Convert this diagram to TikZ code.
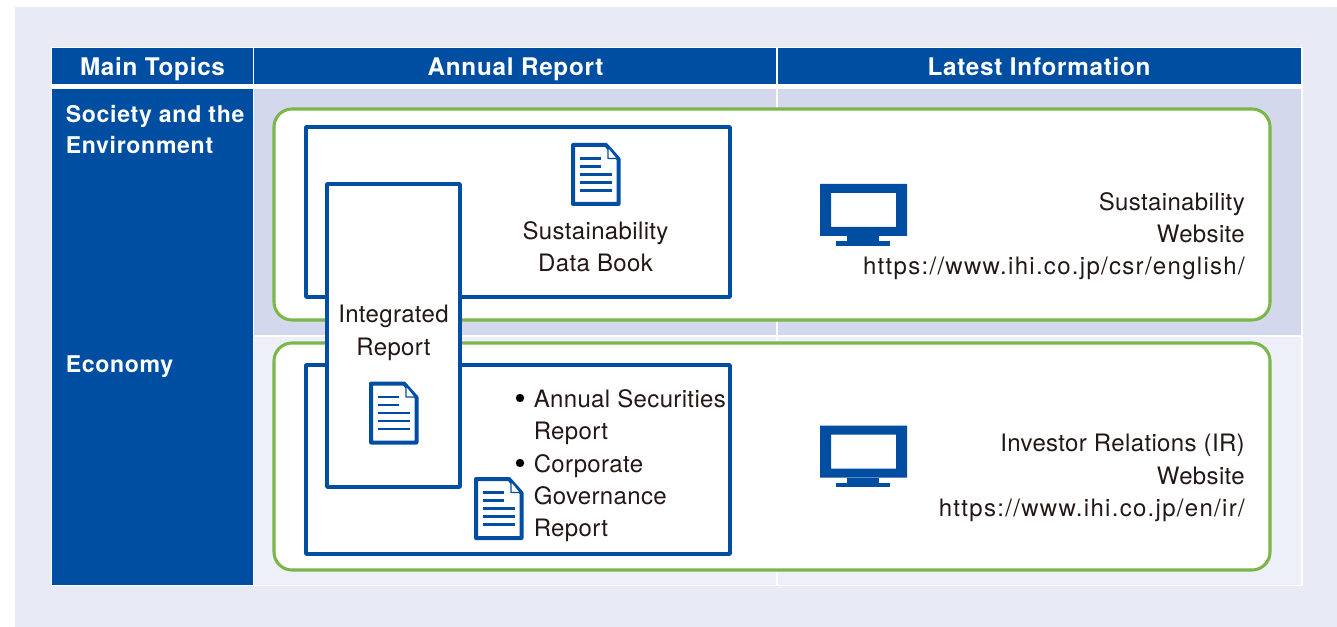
\documentclass[tikz,border=0pt]{standalone}
\usepackage{fontspec}
\setmainfont{TeX Gyre Heros}
\definecolor{pagebg}{HTML}{E8EAF6}
\definecolor{ihiblue}{HTML}{004EA2}
\definecolor{rowa}{HTML}{D3D8EC}
\definecolor{rowb}{HTML}{EEF0F9}
\definecolor{leaf}{HTML}{7AB648}
\definecolor{ink}{HTML}{231815}
\newfontface\headfont[LetterSpace=3]{TeX Gyre Heros Bold}
\newfontface\bodyfont[LetterSpace=1.5]{TeX Gyre Heros}
\newfontface\urlfont[LetterSpace=5.4]{TeX Gyre Heros}
\tikzset{
  x=0.75pt,y=-0.75pt,
  headcell/.style={font=\headfont\fontsize{18.2}{23.5}\selectfont,text=white,inner sep=0pt,anchor=base},
  rowcell/.style={font=\headfont\fontsize{17.3}{23.3}\selectfont,text=white,inner sep=0pt},
  bodytext/.style={font=\bodyfont\fontsize{18}{24.2}\selectfont,text=ink,inner sep=0pt},
  greenbox/.style={draw=leaf,line width=2.3pt,fill=white,rounded corners=13.5pt},
  bluebox/.style={draw=ihiblue,line width=2.7pt,fill=white,line join=round},
}
% document icon
\newcommand{\docicon}[2]{%
  \begin{scope}[shift={(#1,#2)}]
    \draw[ihiblue,line width=3pt,fill=white,line join=round]
      (2,2) -- (35,2) -- (47.5,16) -- (47.5,61) -- (2,61) -- cycle;
    \draw[ihiblue,line width=0.9pt,fill=white,line join=round] (37,4) -- (37,15.5) -- (46.5,15.5) -- cycle;
    \foreach \yy/\xe in {15.5/30,23.5/30,31.5/41,39.5/41,47.5/41}
      \draw[ihiblue,line width=1.9pt] (9,\yy) -- (\xe,\yy);
  \end{scope}}
% monitor icon
\newcommand{\monicon}[2]{%
  \begin{scope}[shift={(#1,#2)}]
    \fill[ihiblue,even odd rule] (0,0) rectangle (87,52) (11,9) rectangle (76,43);
    \fill[ihiblue] (27,52) rectangle (59,57);
    \fill[ihiblue] (16,57) rectangle (70,61.5);
  \end{scope}}
\begin{document}
\begin{tikzpicture}
\useasboundingbox (0,0) rectangle (1337,627);
\fill[white] (0,0) rectangle (1337,627);
\fill[pagebg] (15,7) rectangle (1337,627);
% table
\fill[white] (51,47) rectangle (1303,586);
\fill[ihiblue] (52,48) rectangle (252.5,84.5);
\fill[ihiblue] (254,48) rectangle (776,84.5);
\fill[ihiblue] (778,48) rectangle (1301,84.5);
\fill[ihiblue] (52,89) rectangle (252.5,584.5);
\fill[rowa] (254,89) rectangle (776,335);
\fill[rowa] (778,89) rectangle (1301,335);
\fill[rowb] (254,337) rectangle (776,584.5);
\fill[rowb] (778,337) rectangle (1301,584.5);
% header labels
\node[headcell] (h1) at (152.5,75.5) {Main Topics};
\node[headcell] (h2) at (515.5,75.5) {Annual Report};
\node[headcell] (h3) at (1039,75.5) {Latest Information};
\node[rowcell,anchor=north west,align=left] (r1) at (65.5,105) {Society and the\\Environment};
\node[rowcell,anchor=base west] (r2) at (65.5,372.5) {Economy};
% green boxes
\draw[greenbox] (274,109) rectangle (1270,320);
\draw[greenbox] (274,343) rectangle (1270,570);
% blue boxes
\draw[bluebox] (306,127) rectangle (730,297);
\draw[bluebox] (306,365) rectangle (730,554);
\draw[bluebox] (327,184) rectangle (460,487);
% icons
\docicon{571}{143}
\docicon{369}{381.5}
\docicon{474}{477}
\monicon{820}{184}
\monicon{820}{425.5}
% labels
\node[bodytext,align=center] (t1) at (595.5,247) {Sustainability\\Data Book};
\node[bodytext,align=center] (t2) at (393.5,333) {Integrated\\Report};
\node[bodytext,anchor=north west,align=left] (t3) at (533.5,389.5) {Annual Securities\\Report\\Corporate\\Governance\\Report};
\fill[black] (520,398) circle (4.2);
\fill[black] (520,463) circle (4.2);
\node[bodytext,anchor=east,align=right] (t4) at (1245,236) {Sustainability\\Website\\{\urlfont https://www.ihi.co.jp/csr/english/}};
\node[bodytext,anchor=east,align=right] (t5) at (1245,478) {Investor Relations (IR)\ \\Website\\{\urlfont https://www.ihi.co.jp/en/ir/}};
\end{tikzpicture}
\end{document}
